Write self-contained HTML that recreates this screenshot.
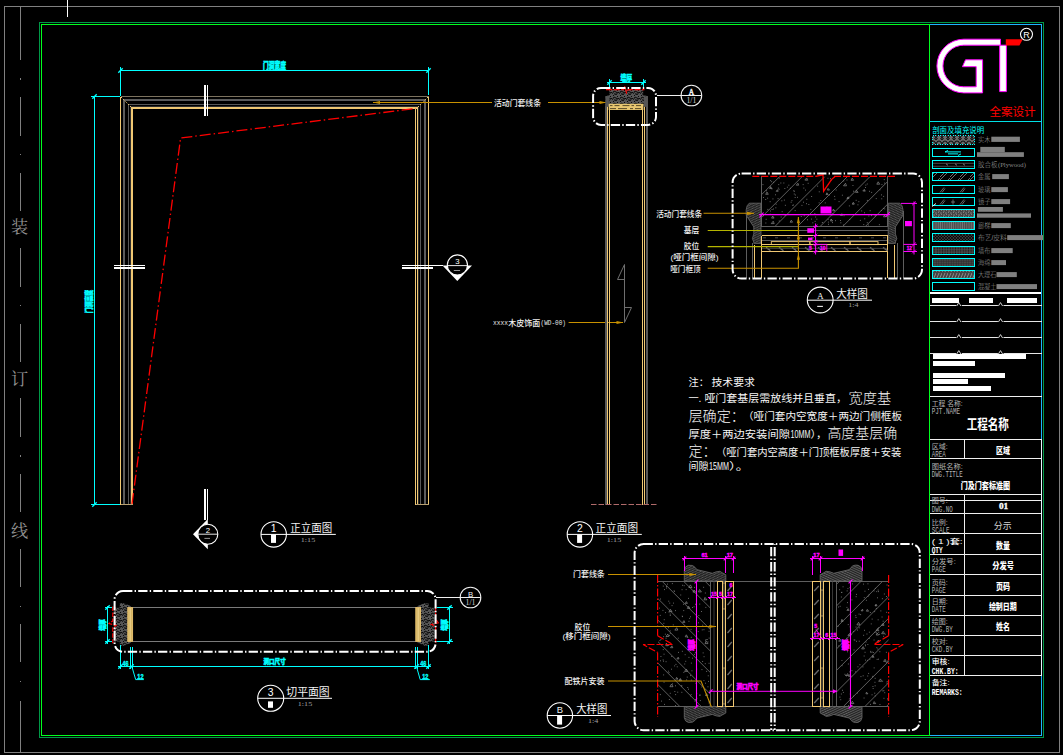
<!DOCTYPE html>
<html><head><meta charset="utf-8"><title>drawing</title>
<style>html,body{margin:0;padding:0;background:#000;overflow:hidden}svg{display:block}
.fs{font-family:"Liberation Sans","Noto Sans CJK SC",sans-serif}
.fr{font-family:"Liberation Serif","Noto Serif CJK SC",serif}
.fm{font-family:"Liberation Mono",monospace}</style></head>
<body><svg width="1063" height="755" viewBox="0 0 1063 755" font-family="Liberation Sans, sans-serif">
<rect width="1063" height="755" fill="#000"/>
<g shape-rendering="crispEdges">
<rect x="4.5" y="6.5" width="1055" height="746" fill="none" stroke="#808080" stroke-width="1" />
<line x1="67.5" y1="0" x2="67.5" y2="17" stroke="#ffffff" stroke-width="1" />
<line x1="20.5" y1="6.5" x2="20.5" y2="59.5" stroke="#808080" stroke-width="1" />
<line x1="20.5" y1="97" x2="20.5" y2="136" stroke="#808080" stroke-width="1" />
<line x1="20.5" y1="172.5" x2="20.5" y2="211" stroke="#808080" stroke-width="1" />
<line x1="20.5" y1="248" x2="20.5" y2="286.5" stroke="#808080" stroke-width="1" />
<line x1="20.5" y1="323.5" x2="20.5" y2="362" stroke="#808080" stroke-width="1" />
<line x1="20.5" y1="398" x2="20.5" y2="436.5" stroke="#808080" stroke-width="1" />
<line x1="20.5" y1="474" x2="20.5" y2="511.5" stroke="#808080" stroke-width="1" />
<line x1="20.5" y1="549" x2="20.5" y2="586.5" stroke="#808080" stroke-width="1" />
<line x1="20.5" y1="624" x2="20.5" y2="662" stroke="#808080" stroke-width="1" />
<line x1="20.5" y1="700.5" x2="20.5" y2="752" stroke="#808080" stroke-width="1" />
<rect x="20" y="78" width="1" height="1.5" fill="#808080" stroke="none" stroke-width="1" />
<rect x="20" y="153.5" width="1" height="1.5" fill="#808080" stroke="none" stroke-width="1" />
<rect x="20" y="304.5" width="1" height="1.5" fill="#808080" stroke="none" stroke-width="1" />
<rect x="20" y="455" width="1" height="1.5" fill="#808080" stroke="none" stroke-width="1" />
<rect x="20" y="605.5" width="1" height="1.5" fill="#808080" stroke="none" stroke-width="1" />
<rect x="20" y="680.5" width="1" height="1.5" fill="#808080" stroke="none" stroke-width="1" />
<rect x="39.5" y="22.5" width="1004" height="715" fill="none" stroke="#009848" stroke-width="1" />
<path d="M929.5 735.5H41.5V24.5H929.5Z" fill="none" stroke="#00ff1e" stroke-width="1" />
<path d="M930 24.5H1041.5V735.5H930" fill="none" stroke="#1eb4ff" stroke-width="1" />
</g>
<text class="fr" x="11" y="233" font-size="17.2" fill="#909090">装</text>
<text class="fr" x="11" y="385" font-size="17.2" fill="#909090">订</text>
<text class="fr" x="11" y="536.6" font-size="17.2" fill="#909090">线</text>
<path d="M963.75 39.2 H1000.5 V45.2 H963.75 A20.75 20.75 0 0 0 963.75 86.8 H976.2 V66.7 H962.4 L965.5 59.8 H982.6 V92.9 H963.75 A26.85 26.85 0 0 1 963.75 39.2 Z" fill="#ffffff" stroke="#ff00ff" stroke-width="1" />
<path d="M999.7 45.2H1006.4V91.6H999.7Z" fill="#ffffff" stroke="#ff00ff" stroke-width="1" />
<polygon points="1005.8,39.2 1022.8,39.2 1019.4,45.6 1005.8,45.6" fill="#ff0000" stroke="none" stroke-width="1" />
<circle cx="1026.5" cy="34.3" r="6" fill="none" stroke="#ffffff" stroke-width="1.1" />
<text class="fs" x="1023.25" y="37.6" font-size="9" fill="#ffffff">R</text>
<text class="fs" x="989.4" y="116.3" font-size="11.6" fill="#ff0000" textLength="46.3" lengthAdjust="spacingAndGlyphs">全案设计</text>
<g shape-rendering="crispEdges">
<line x1="930" y1="121.5" x2="1041.5" y2="121.5" stroke="#00e0e6" stroke-width="1" />
</g>
<text class="fs" x="932.2" y="132.8" font-size="7.6" fill="#00ffff" textLength="52" lengthAdjust="spacingAndGlyphs">剖面及填充说明</text>
<defs><pattern id="hWood" width="6" height="6" patternUnits="userSpaceOnUse"><rect width="6" height="6" fill="#6a6a6a"/><path d="M0 6Q3 0 6 6M0 2L1.5 0M4.5 0L6 2" stroke="#0c0c0c" stroke-width="1.1" fill="none"/></pattern><pattern id="hDiag" width="10" height="10" patternUnits="userSpaceOnUse"><path d="M-1 11L11 -1M-1 1L1 -1M9 11L11 9M-1 8L8 -1M7 11L11 7" stroke="#8a8a8a" stroke-width="0.8"/></pattern><pattern id="hDots" width="3" height="3" patternUnits="userSpaceOnUse"><rect width="3" height="3" fill="#3a3a3a"/><circle cx="1" cy="1" r="0.9" fill="#000"/><circle cx="2.5" cy="2.5" r="0.7" fill="#000"/></pattern><pattern id="hDots2" width="2.6" height="2.6" patternUnits="userSpaceOnUse"><rect width="2.6" height="2.6" fill="#4a4a4a"/><circle cx="1.3" cy="1.3" r="0.8" fill="#111"/></pattern><pattern id="hGrid" width="2.5" height="2.5" patternUnits="userSpaceOnUse"><rect width="2.5" height="2.5" fill="#484848"/><path d="M0 1.2H2.5M1.2 0V2.5" stroke="#2a2a2a" stroke-width="0.6"/></pattern><pattern id="hNoise" width="5" height="4" patternUnits="userSpaceOnUse"><rect width="5" height="4" fill="#444"/><path d="M0 1H2M3 3H5M1 3L2 2M3 1L4 0" stroke="#999" stroke-width="0.7"/></pattern><pattern id="hBars" width="2.2" height="8" patternUnits="userSpaceOnUse"><rect width="2.2" height="8" fill="#4c4c4c"/><path d="M1 0V8" stroke="#777" stroke-width="0.9"/></pattern><pattern id="hMarb" width="6" height="8" patternUnits="userSpaceOnUse"><rect width="6" height="8" fill="#444"/><path d="M0 8L3 1M3 8L6 1" stroke="#8a8a8a" stroke-width="1"/></pattern></defs>
<rect x="932.5" y="135.5" width="42" height="9" fill="url(#hWood)" stroke="none" stroke-width="1" />
<rect x="932.5" y="135.5" width="42" height="9" fill="none" stroke="#00ffff" stroke-width="1" shape-rendering="crispEdges" stroke-dasharray="1 1.5"/>
<rect x="932.5" y="148.5" width="42" height="8" fill="none" stroke="#00ffff" stroke-width="1" shape-rendering="crispEdges"/>
<rect x="932.5" y="160.5" width="42" height="8" fill="none" stroke="#00ffff" stroke-width="1" shape-rendering="crispEdges"/>
<rect x="932.5" y="172.5" width="42" height="8" fill="url(#hDiag)" stroke="none" stroke-width="1" />
<rect x="932.5" y="172.5" width="42" height="8" fill="none" stroke="#00ffff" stroke-width="1" shape-rendering="crispEdges"/>
<rect x="932.5" y="185.5" width="42" height="8" fill="none" stroke="#00ffff" stroke-width="1" shape-rendering="crispEdges"/>
<rect x="932.5" y="197.5" width="42" height="8" fill="none" stroke="#00ffff" stroke-width="1" shape-rendering="crispEdges"/>
<rect x="932.5" y="209.5" width="42" height="8" fill="url(#hNoise)" stroke="none" stroke-width="1" />
<rect x="932.5" y="209.5" width="42" height="8" fill="none" stroke="#00ffff" stroke-width="1" shape-rendering="crispEdges"/>
<rect x="932.5" y="221.5" width="42" height="8" fill="url(#hBars)" stroke="none" stroke-width="1" />
<rect x="932.5" y="221.5" width="42" height="8" fill="none" stroke="#00ffff" stroke-width="1" shape-rendering="crispEdges"/>
<rect x="932.5" y="233.5" width="42" height="8" fill="url(#hDots)" stroke="none" stroke-width="1" />
<rect x="932.5" y="233.5" width="42" height="8" fill="none" stroke="#00ffff" stroke-width="1" shape-rendering="crispEdges"/>
<rect x="932.5" y="246.5" width="42" height="8" fill="url(#hDots2)" stroke="none" stroke-width="1" />
<rect x="932.5" y="246.5" width="42" height="8" fill="none" stroke="#00ffff" stroke-width="1" shape-rendering="crispEdges"/>
<rect x="932.5" y="258.5" width="42" height="8" fill="url(#hGrid)" stroke="none" stroke-width="1" />
<rect x="932.5" y="258.5" width="42" height="8" fill="none" stroke="#00ffff" stroke-width="1" shape-rendering="crispEdges"/>
<rect x="932.5" y="270.5" width="42" height="8" fill="url(#hMarb)" stroke="none" stroke-width="1" />
<rect x="932.5" y="270.5" width="42" height="8" fill="none" stroke="#00ffff" stroke-width="1" shape-rendering="crispEdges"/>
<rect x="932.5" y="282.5" width="42" height="8" fill="none" stroke="#00ffff" stroke-width="1" shape-rendering="crispEdges"/>
<path d="M945 151.9 H961 M945 151.9 l3 -1.4 M961 153.9 l-3 1.6 M948 153.9 H958" fill="none" stroke="#00ffff" stroke-width="1" />
<path d="M933 163.3 H974 M933 166.3 H974" fill="none" stroke="#5a5a5a" stroke-width="0.8" />
<path d="M946 163.8 l2 1.5 M955 163.8 l2 1.5 M963 163.8 l2 1.5" fill="none" stroke="#8a8a8a" stroke-width="0.9" />
<path d="M940 192.5 l4 -5 M942 192.5 l3 -4 M960 192.5 l4 -5 M962 192.5 l3 -4" fill="none" stroke="#808080" stroke-width="0.8" />
<path d="M940 204.5 l4 -5 M942 204.5 l3 -4 M960 204.5 l4 -5 M962 204.5 l3 -4 M953 199.5 v5 M951 202 h4" fill="none" stroke="#808080" stroke-width="0.8" />
<path d="M932 206.5 l4 -3" fill="none" stroke="#ffffff" stroke-width="0.9" />
<text class="fs" x="977.9" y="142.4" font-size="6.6" font-weight="300" fill="#9a9a9a" textLength="12.5" lengthAdjust="spacingAndGlyphs">实木</text>
<rect x="991.3" y="136.7" width="28.6" height="5.2" fill="#808080" stroke="none" stroke-width="1" />
<rect x="980.3" y="146.9" width="24.5" height="5.3" fill="#808080" stroke="none" stroke-width="1" />
<rect x="977" y="152.2" width="46.9" height="4.7" fill="#808080" stroke="none" stroke-width="1" />
<text class="fs" x="977.9" y="167.4" font-size="6.6" font-weight="300" fill="#9a9a9a" textLength="19.5" lengthAdjust="spacingAndGlyphs">胶合板</text>
<text class="fr" x="998" y="167.1" font-size="6.6" fill="#8a8a8a">(Plywood)</text>
<text class="fs" x="977.9" y="179.4" font-size="6.6" font-weight="300" fill="#9a9a9a" textLength="12.5" lengthAdjust="spacingAndGlyphs">金属</text>
<rect x="992.2" y="174.1" width="16.7" height="5" fill="#808080" stroke="none" stroke-width="1" />
<text class="fs" x="977.9" y="192.4" font-size="6.6" font-weight="300" fill="#9a9a9a" textLength="12.5" lengthAdjust="spacingAndGlyphs">玻璃</text>
<rect x="991.3" y="187.1" width="16.6" height="5" fill="#808080" stroke="none" stroke-width="1" />
<text class="fs" x="977.9" y="204.4" font-size="6.6" font-weight="300" fill="#9a9a9a" textLength="12.5" lengthAdjust="spacingAndGlyphs">镜子</text>
<rect x="991.3" y="199.1" width="18.8" height="5" fill="#808080" stroke="none" stroke-width="1" />
<rect x="977.9" y="207" width="25" height="4.8" fill="#808080" stroke="none" stroke-width="1" />
<rect x="977" y="213.4" width="54" height="4.3" fill="#808080" stroke="none" stroke-width="1" />
<text class="fs" x="977.9" y="228.4" font-size="6.6" font-weight="300" fill="#9a9a9a" textLength="12.5" lengthAdjust="spacingAndGlyphs">廊梯</text>
<rect x="991.3" y="223.1" width="19.5" height="5" fill="#808080" stroke="none" stroke-width="1" />
<text class="fs" x="977.9" y="240.4" font-size="6.6" font-weight="300" fill="#9a9a9a" textLength="29" lengthAdjust="spacingAndGlyphs">布艺/皮料</text>
<rect x="1007.2" y="235.1" width="35.8" height="5" fill="#808080" stroke="none" stroke-width="1" />
<text class="fs" x="977.9" y="253.4" font-size="6.6" font-weight="300" fill="#9a9a9a" textLength="12.5" lengthAdjust="spacingAndGlyphs">墙布</text>
<rect x="991.3" y="248.1" width="21.4" height="5" fill="#808080" stroke="none" stroke-width="1" />
<text class="fs" x="977.9" y="265.4" font-size="6.6" font-weight="300" fill="#9a9a9a" textLength="12.5" lengthAdjust="spacingAndGlyphs">海绵</text>
<rect x="991.3" y="260.1" width="14.7" height="5" fill="#808080" stroke="none" stroke-width="1" />
<text class="fs" x="977.9" y="277.4" font-size="6.6" font-weight="300" fill="#9a9a9a" textLength="18.5" lengthAdjust="spacingAndGlyphs">大理石</text>
<rect x="996.5" y="272.1" width="20.3" height="5" fill="#808080" stroke="none" stroke-width="1" />
<text class="fs" x="977.9" y="289.4" font-size="6.6" font-weight="300" fill="#9a9a9a" textLength="18.5" lengthAdjust="spacingAndGlyphs">混凝土</text>
<rect x="996.5" y="284.1" width="40.5" height="5" fill="#808080" stroke="none" stroke-width="1" />
<g shape-rendering="crispEdges">
<rect x="930" y="292" width="111" height="2" fill="#ffffff" stroke="none" stroke-width="1" />
<rect x="932" y="298" width="27" height="5" fill="#ffffff" stroke="none" stroke-width="1" />
<rect x="969" y="298" width="24" height="5" fill="#ffffff" stroke="none" stroke-width="1" />
<rect x="1007" y="298" width="30" height="5" fill="#ffffff" stroke="none" stroke-width="1" />
<line x1="930" y1="305.5" x2="1042" y2="305.5" stroke="#e6e6e6" stroke-width="1" />
<line x1="930" y1="321.5" x2="1042" y2="321.5" stroke="#e6e6e6" stroke-width="1" />
<line x1="930" y1="337.5" x2="1042" y2="337.5" stroke="#e6e6e6" stroke-width="1" />
<line x1="930" y1="353.5" x2="1042" y2="353.5" stroke="#e6e6e6" stroke-width="1" />
</g>
<rect x="956.2" y="304.5" width="5.6" height="2" fill="#000" stroke="none" stroke-width="1" />
<path d="M956.7 306 l2.1 -3.4 l2.1 3.4" fill="none" stroke="#e6e6e6" stroke-width="0.9" />
<rect x="997.9" y="304.5" width="5.6" height="2" fill="#000" stroke="none" stroke-width="1" />
<path d="M998.4 306 l2.1 -3.4 l2.1 3.4" fill="none" stroke="#e6e6e6" stroke-width="0.9" />
<rect x="956.2" y="320.5" width="5.6" height="2" fill="#000" stroke="none" stroke-width="1" />
<path d="M956.7 322 l2.1 -3.4 l2.1 3.4" fill="none" stroke="#e6e6e6" stroke-width="0.9" />
<rect x="997.9" y="320.5" width="5.6" height="2" fill="#000" stroke="none" stroke-width="1" />
<path d="M998.4 322 l2.1 -3.4 l2.1 3.4" fill="none" stroke="#e6e6e6" stroke-width="0.9" />
<rect x="956.2" y="336.5" width="5.6" height="2" fill="#000" stroke="none" stroke-width="1" />
<path d="M956.7 338 l2.1 -3.4 l2.1 3.4" fill="none" stroke="#e6e6e6" stroke-width="0.9" />
<rect x="997.9" y="336.5" width="5.6" height="2" fill="#000" stroke="none" stroke-width="1" />
<path d="M998.4 338 l2.1 -3.4 l2.1 3.4" fill="none" stroke="#e6e6e6" stroke-width="0.9" />
<rect x="956.2" y="352.5" width="5.6" height="2" fill="#000" stroke="none" stroke-width="1" />
<path d="M956.7 354 l2.1 -3.4 l2.1 3.4" fill="none" stroke="#e6e6e6" stroke-width="0.9" />
<rect x="997.9" y="352.5" width="5.6" height="2" fill="#000" stroke="none" stroke-width="1" />
<path d="M998.4 354 l2.1 -3.4 l2.1 3.4" fill="none" stroke="#e6e6e6" stroke-width="0.9" />
<g shape-rendering="crispEdges">
<rect x="933" y="354" width="93" height="5" fill="#ffffff" stroke="none" stroke-width="1" />
<rect x="933" y="361" width="42" height="5" fill="#ffffff" stroke="none" stroke-width="1" />
<rect x="933" y="373" width="72" height="5" fill="#ffffff" stroke="none" stroke-width="1" />
<rect x="933" y="379" width="35" height="5" fill="#ffffff" stroke="none" stroke-width="1" />
<rect x="933" y="386" width="58" height="5" fill="#ffffff" stroke="none" stroke-width="1" />
<line x1="930" y1="396.5" x2="1042" y2="396.5" stroke="#f0f0f0" stroke-width="1" />
<line x1="930" y1="439.5" x2="1042" y2="439.5" stroke="#f0f0f0" stroke-width="1" />
<line x1="930" y1="458.5" x2="1042" y2="458.5" stroke="#f0f0f0" stroke-width="1" />
<line x1="930" y1="494.5" x2="1042" y2="494.5" stroke="#f0f0f0" stroke-width="1" />
<line x1="930" y1="500.5" x2="1042" y2="500.5" stroke="#f0f0f0" stroke-width="1" />
<line x1="930" y1="513.5" x2="1042" y2="513.5" stroke="#f0f0f0" stroke-width="1" />
<line x1="930" y1="533.5" x2="1042" y2="533.5" stroke="#f0f0f0" stroke-width="1" />
<line x1="930" y1="554.5" x2="1042" y2="554.5" stroke="#f0f0f0" stroke-width="1" />
<line x1="930" y1="574.5" x2="1042" y2="574.5" stroke="#f0f0f0" stroke-width="1" />
<line x1="930" y1="595.5" x2="1042" y2="595.5" stroke="#f0f0f0" stroke-width="1" />
<line x1="930" y1="615.5" x2="1042" y2="615.5" stroke="#f0f0f0" stroke-width="1" />
<line x1="930" y1="635.5" x2="1042" y2="635.5" stroke="#f0f0f0" stroke-width="1" />
<line x1="930" y1="655.5" x2="1042" y2="655.5" stroke="#f0f0f0" stroke-width="1" />
<line x1="930" y1="675.5" x2="1042" y2="675.5" stroke="#f0f0f0" stroke-width="1" />
<line x1="1041.5" y1="439" x2="1041.5" y2="676" stroke="#e8f4ff" stroke-width="1" />
<line x1="964.5" y1="439.5" x2="964.5" y2="458.5" stroke="#f0f0f0" stroke-width="1" />
<line x1="964.5" y1="494.5" x2="964.5" y2="675.5" stroke="#f0f0f0" stroke-width="1" />
</g>
<text class="fs" x="931.7" y="405.8" font-size="7" fill="#b4b4b4" textLength="31" lengthAdjust="spacingAndGlyphs">工程 名称:</text>
<text class="fm" x="931.7" y="413.8" font-size="8.2" fill="#b4b4b4" textLength="28.5" lengthAdjust="spacingAndGlyphs">PJT.NAME</text>
<text class="fs" x="931.7" y="449.4" font-size="7" fill="#b4b4b4" textLength="16" lengthAdjust="spacingAndGlyphs">区域:</text>
<text class="fm" x="931.7" y="457.4" font-size="8.2" fill="#b4b4b4" textLength="14" lengthAdjust="spacingAndGlyphs">AREA</text>
<text class="fs" x="931.7" y="469.4" font-size="7" fill="#b4b4b4" textLength="31" lengthAdjust="spacingAndGlyphs">图纸名称:</text>
<text class="fm" x="931.7" y="477.4" font-size="8.2" fill="#b4b4b4" textLength="31" lengthAdjust="spacingAndGlyphs">DWG.TITLE</text>
<text class="fs" x="931.7" y="503.1" font-size="7" fill="#b4b4b4" textLength="16" lengthAdjust="spacingAndGlyphs">图号:</text>
<text class="fm" x="931.7" y="512.3" font-size="8.2" fill="#b4b4b4" textLength="21" lengthAdjust="spacingAndGlyphs">DWG.NO</text>
<text class="fs" x="931.7" y="524.6" font-size="7" fill="#b4b4b4" textLength="16" lengthAdjust="spacingAndGlyphs">比例:</text>
<text class="fm" x="931.7" y="532.6" font-size="8.2" fill="#b4b4b4" textLength="18" lengthAdjust="spacingAndGlyphs">SCALE</text>
<text class="fs" x="931.7" y="544.1" font-size="7" font-weight="500" fill="#ffffff" textLength="31" lengthAdjust="spacingAndGlyphs">( 1 )套:</text>
<text class="fm" x="931.7" y="553.2" font-size="8.2" font-weight="bold" fill="#ffffff" textLength="11" lengthAdjust="spacingAndGlyphs">QTY</text>
<text class="fs" x="931.7" y="563.8" font-size="7" fill="#b4b4b4" textLength="24" lengthAdjust="spacingAndGlyphs">分发号:</text>
<text class="fm" x="931.7" y="571.8" font-size="8.2" fill="#b4b4b4" textLength="14" lengthAdjust="spacingAndGlyphs">PAGE</text>
<text class="fs" x="931.7" y="584.5" font-size="7" fill="#b4b4b4" textLength="16" lengthAdjust="spacingAndGlyphs">页码:</text>
<text class="fm" x="931.7" y="592.5" font-size="8.2" fill="#b4b4b4" textLength="14" lengthAdjust="spacingAndGlyphs">PAGE</text>
<text class="fs" x="931.7" y="604.1" font-size="7" fill="#b4b4b4" textLength="16" lengthAdjust="spacingAndGlyphs">日期:</text>
<text class="fm" x="931.7" y="612.1" font-size="8.2" fill="#b4b4b4" textLength="14" lengthAdjust="spacingAndGlyphs">DATE</text>
<text class="fs" x="931.7" y="624.3" font-size="7" fill="#b4b4b4" textLength="16" lengthAdjust="spacingAndGlyphs">绘图:</text>
<text class="fm" x="931.7" y="632.3" font-size="8.2" fill="#b4b4b4" textLength="21" lengthAdjust="spacingAndGlyphs">DWG.BY</text>
<text class="fs" x="931.7" y="644.1" font-size="7" fill="#b4b4b4" textLength="16" lengthAdjust="spacingAndGlyphs">校对:</text>
<text class="fm" x="931.7" y="652.1" font-size="8.2" fill="#b4b4b4" textLength="21" lengthAdjust="spacingAndGlyphs">CKD.BY</text>
<text class="fs" x="931.7" y="664.2" font-size="7" font-weight="500" fill="#ffffff" textLength="17.9" lengthAdjust="spacingAndGlyphs">审核:</text>
<text class="fm" x="931.7" y="674.3" font-size="8.2" font-weight="bold" fill="#ffffff" textLength="27" lengthAdjust="spacingAndGlyphs">CHK.BY:</text>
<text class="fs" x="931.7" y="685.1" font-size="7" font-weight="500" fill="#ffffff" textLength="17.9" lengthAdjust="spacingAndGlyphs">备注:</text>
<text class="fm" x="931.7" y="694.5" font-size="8.2" font-weight="bold" fill="#ffffff" textLength="31" lengthAdjust="spacingAndGlyphs">REMARKS:</text>
<text class="fs" x="966.7" y="429.2" font-size="13.4" font-weight="bold" fill="#ffffff" textLength="42.2" lengthAdjust="spacingAndGlyphs">工程名称</text>
<text class="fs" x="996" y="454.2" font-size="8.6" font-weight="900" fill="#ffffff" textLength="14" lengthAdjust="spacingAndGlyphs">区域</text>
<text class="fs" x="960.7" y="488.6" font-size="9.2" font-weight="900" fill="#ffffff" textLength="49.4" lengthAdjust="spacingAndGlyphs">门及门套标准图</text>
<text class="fr" x="998.9" y="508.8" font-size="8.6" font-weight="bold" fill="#ffffff" stroke="#fff" stroke-width="0.3" textLength="9.3" lengthAdjust="spacingAndGlyphs">01</text>
<text class="fs" x="993.8" y="528.8" font-size="9.2" fill="#d4d4d4" textLength="17.8" lengthAdjust="spacingAndGlyphs">分示</text>
<text class="fs" x="996" y="549.2" font-size="8.6" font-weight="900" fill="#ffffff" textLength="14" lengthAdjust="spacingAndGlyphs">数量</text>
<text class="fs" x="992.2" y="569.2" font-size="8.6" font-weight="900" fill="#ffffff" textLength="21.7" lengthAdjust="spacingAndGlyphs">分发号</text>
<text class="fs" x="996" y="589.6" font-size="8.6" font-weight="900" fill="#ffffff" textLength="14" lengthAdjust="spacingAndGlyphs">页码</text>
<text class="fs" x="988.9" y="610.2" font-size="8.6" font-weight="900" fill="#ffffff" textLength="27.9" lengthAdjust="spacingAndGlyphs">绘制日期</text>
<text class="fs" x="996" y="630" font-size="8.6" font-weight="900" fill="#ffffff" textLength="14" lengthAdjust="spacingAndGlyphs">姓名</text>
<g shape-rendering="crispEdges" fill="none">
<path d="M124 504.5V100H425V504.5" fill="none" stroke="#5c5c5c" stroke-width="2" />
<path d="M128.5 504.5V104.5H420.5V504.5" fill="none" stroke="#585858" stroke-width="1" />
<path d="M130.1 504.5V106.1H418.9V504.5" fill="none" stroke="#2c2c2c" stroke-width="1" />
<path d="M132 504.5V108H417.5" fill="none" stroke="#f0c873" stroke-width="2" />
<line x1="415.5" y1="108" x2="415.5" y2="504.5" stroke="#f0c873" stroke-width="1" />
<line x1="417.5" y1="107" x2="417.5" y2="504.5" stroke="#f0c873" stroke-width="1" />
<line x1="120.5" y1="96.5" x2="120.5" y2="504.5" stroke="#f0c873" stroke-width="1" />
<line x1="428.5" y1="96.5" x2="428.5" y2="504.5" stroke="#f0c873" stroke-width="1" />
<line x1="120.5" y1="96.5" x2="428.5" y2="96.5" stroke="#7c725e" stroke-width="1" />
<line x1="120.5" y1="504.5" x2="133" y2="504.5" stroke="#b8a070" stroke-width="1" />
<line x1="416" y1="504.5" x2="428.5" y2="504.5" stroke="#b8a070" stroke-width="1" />
</g>
<path d="M121 97L131.5 107.5M428 97L417.5 107.5" fill="none" stroke="#f0c873" stroke-width="1" stroke-dasharray="1.6 1.6"/>
<path d="M132 504L180.6 138L415.8 108.4" fill="none" stroke="#ff0000" stroke-width="1.3" stroke-dasharray="11 3 1.5 3"/>
<g shape-rendering="crispEdges">
<line x1="120.5" y1="70.5" x2="428.5" y2="70.5" stroke="#00ffff" stroke-width="1" />
<line x1="120.5" y1="67" x2="120.5" y2="96" stroke="#00ffff" stroke-width="1" />
<line x1="428.5" y1="67" x2="428.5" y2="95" stroke="#00ffff" stroke-width="1" />
<line x1="94.5" y1="96.5" x2="94.5" y2="504.5" stroke="#00ffff" stroke-width="1" />
<line x1="91" y1="96.5" x2="120" y2="96.5" stroke="#00ffff" stroke-width="1" />
<line x1="91" y1="504.5" x2="120" y2="504.5" stroke="#00ffff" stroke-width="1" />
</g>
<path d="M118.3 72.7L122.7 68.3" fill="none" stroke="#00ffff" stroke-width="1.4" />
<path d="M426.3 72.7L430.7 68.3" fill="none" stroke="#00ffff" stroke-width="1.4" />
<path d="M92.3 98.7L96.7 94.3" fill="none" stroke="#00ffff" stroke-width="1.4" />
<path d="M92.3 506.7L96.7 502.3" fill="none" stroke="#00ffff" stroke-width="1.4" />
<text class="fs" x="262.9" y="69.4" font-size="8.6" font-weight="900" fill="#00ffff" stroke="#00ffff" stroke-width="0.6" textLength="23" lengthAdjust="spacingAndGlyphs">门洞宽度</text>
<g transform="rotate(-90 91.5 301.5)"><text class="fs" x="79.85" y="301.5" font-size="7.8" font-weight="900" fill="#00ffff" stroke="#00ffff" stroke-width="0.6" textLength="23.3" lengthAdjust="spacingAndGlyphs">门洞高度</text></g>
<g shape-rendering="crispEdges">
<rect x="204" y="85" width="2" height="31" fill="#ffffff" stroke="none" stroke-width="1" />
<line x1="207.5" y1="85" x2="207.5" y2="116" stroke="#ffffff" stroke-width="1" />
<line x1="114" y1="265.5" x2="145" y2="265.5" stroke="#ffffff" stroke-width="1" />
<rect x="114" y="267" width="31" height="2" fill="#ffffff" stroke="none" stroke-width="1" />
<line x1="402" y1="265.5" x2="443" y2="265.5" stroke="#ffffff" stroke-width="1" />
<rect x="402" y="267" width="31" height="2" fill="#ffffff" stroke="none" stroke-width="1" />
<rect x="204" y="489" width="2" height="31" fill="#ffffff" stroke="none" stroke-width="1" />
<line x1="207.5" y1="489" x2="207.5" y2="520" stroke="#ffffff" stroke-width="1" />
</g>
<polygon points="442.5,265.5 472,265.5 457.3,281" fill="#ffffff" stroke="none" stroke-width="1" />
<circle cx="457.4" cy="265" r="10.1" fill="#000" stroke="#ffffff" stroke-width="1.1" />
<line x1="447.3" y1="265.6" x2="467.5" y2="265.6" stroke="#ffffff" stroke-width="0.9" />
<text class="fs" x="455.23" y="264.4" font-size="7.8" fill="#ffffff">3</text>
<line x1="453.8" y1="270.5" x2="460.1" y2="270.5" stroke="#bbb" stroke-width="0.8" />
<polygon points="207.8,519 193,534.2 207.8,549.2" fill="#ffffff" stroke="none" stroke-width="1" />
<circle cx="207.8" cy="534.2" r="10" fill="#000" stroke="#ffffff" stroke-width="1.1" />
<line x1="197.8" y1="534.2" x2="217.8" y2="534.2" stroke="#ffffff" stroke-width="0.9" />
<text class="fs" x="205.63" y="532.8" font-size="7.8" fill="#ffffff">2</text>
<line x1="204.4" y1="538.4" x2="210" y2="538.4" stroke="#bbb" stroke-width="0.8" />
<line x1="373" y1="102.5" x2="492" y2="102.5" stroke="#c89100" stroke-width="1" />
<line x1="548" y1="102.5" x2="606" y2="102.5" stroke="#c89100" stroke-width="1" />
<polygon points="373,102.5 380,101 380,104" fill="#c89100" stroke="none" stroke-width="1" />
<polygon points="606.5,102.5 599.5,101 599.5,104" fill="#c89100" stroke="none" stroke-width="1" />
<text class="fs" x="494" y="105.8" font-size="8.4" font-weight="500" fill="#f0f0f0" textLength="47" lengthAdjust="spacingAndGlyphs">活动门套线条</text>
<text class="fm" x="493" y="324.8" font-size="6.6" fill="#e8e8e8" textLength="15" lengthAdjust="spacingAndGlyphs">xxxx</text>
<text class="fs" x="508.2" y="325.7" font-size="8.4" font-weight="500" fill="#f0f0f0" textLength="32" lengthAdjust="spacingAndGlyphs">木皮饰面</text>
<text class="fm" x="540.5" y="324.8" font-size="6.6" fill="#e8e8e8" textLength="25.5" lengthAdjust="spacingAndGlyphs">(WD-00)</text>
<line x1="568.6" y1="322.5" x2="623" y2="322.5" stroke="#c89100" stroke-width="1" />
<polygon points="623.5,322.5 616.5,321 616.5,324" fill="#c89100" stroke="none" stroke-width="1" />
<circle cx="273.7" cy="534.4" r="12.7" fill="none" stroke="#ffffff" stroke-width="1.1" />
<line x1="261" y1="534.4" x2="335.8" y2="534.4" stroke="#ffffff" stroke-width="1" />
<text class="fs" x="270.81" y="532.1" font-size="10.4" fill="#ffffff">1</text>
<text class="fs" x="290.3" y="532.4" font-size="11" fill="#f4f4f4" textLength="42" lengthAdjust="spacingAndGlyphs">正立面图</text>
<text class="fr" x="300.8" y="541.8" font-size="7" fill="#a0a0a0" textLength="14.4" lengthAdjust="spacingAndGlyphs">1:15</text>
<rect x="271" y="534.5" width="5" height="8.4" fill="#ffffff" stroke="none" stroke-width="1" />
<defs><pattern id="hStone" width="7" height="6" patternUnits="userSpaceOnUse"><rect width="7" height="6" fill="#555"/><path d="M0 5L2 2L3.5 3.5L5 1L7 2M1 0L2 1M4 6L5.5 4.5M0 1.5L1 3M5.5 3L7 5" stroke="#0a0a0a" stroke-width="1" fill="none"/></pattern></defs>
<g shape-rendering="crispEdges">
<line x1="607.5" y1="104" x2="607.5" y2="504.5" stroke="#f0c873" stroke-width="1" />
<line x1="609.5" y1="104" x2="609.5" y2="504.5" stroke="#f0c873" stroke-width="1" />
<line x1="642.5" y1="104" x2="642.5" y2="504.5" stroke="#f0c873" stroke-width="1" />
<line x1="644.5" y1="104" x2="644.5" y2="504.5" stroke="#f0c873" stroke-width="1" />
<rect x="605" y="104" width="2" height="400.5" fill="#585858" stroke="none" stroke-width="1" />
<rect x="646" y="104" width="2" height="400.5" fill="#585858" stroke="none" stroke-width="1" />
</g>
<rect x="609.2" y="89.7" width="34" height="13.8" fill="url(#hStone)" stroke="none" stroke-width="1" />
<path d="M605.5 96.2L608 95.6H645L648 96.2V106.6H605.5Z" fill="url(#hStone)" stroke="none" stroke-width="1" />
<rect x="605.5" y="96.2" width="4" height="10.4" fill="#555" stroke="none" stroke-width="1" />
<rect x="644" y="96.2" width="4" height="10.4" fill="#555" stroke="none" stroke-width="1" />
<rect x="608.7" y="103.8" width="34.7" height="6.2" fill="#e6c670" stroke="none" stroke-width="1" />
<line x1="610" y1="105.6" x2="642" y2="105.6" stroke="#5a4c28" stroke-width="1" stroke-dasharray="2.5 2 5 3 7 2"/>
<line x1="610" y1="108.6" x2="642" y2="108.6" stroke="#5a4c28" stroke-width="1" stroke-dasharray="6 2 9 3 3 2"/>
<path d="M606 89.7H623.5L625 86.2L626.4 92.8L628 89.7H644.5" fill="none" stroke="#ff0000" stroke-width="1.2" stroke-dasharray="6 1.6"/>
<g shape-rendering="crispEdges">
<line x1="607" y1="82.5" x2="646" y2="82.5" stroke="#00ffff" stroke-width="1" />
<line x1="609.5" y1="79" x2="609.5" y2="89" stroke="#00ffff" stroke-width="1" />
<line x1="643.5" y1="79" x2="643.5" y2="89" stroke="#00ffff" stroke-width="1" />
</g>
<path d="M607.3 84.7L611.7 80.3" fill="none" stroke="#00ffff" stroke-width="1.4" />
<path d="M641.3 84.7L645.7 80.3" fill="none" stroke="#00ffff" stroke-width="1.4" />
<text class="fs" x="620.55" y="80.6" font-size="7.6" font-weight="900" fill="#00ffff" stroke="#00ffff" stroke-width="0.6" textLength="11.5" lengthAdjust="spacingAndGlyphs">墙厚</text>
<rect x="593.1" y="87.9" width="62.9" height="37" rx="8" fill="none" stroke="#fff" stroke-width="2" stroke-dasharray="9.3 2.2 1.4 2.2"/>
<line x1="657" y1="95.5" x2="701.7" y2="95.5" stroke="#f0f0f0" stroke-width="1" />
<circle cx="691.4" cy="95.5" r="10.3" fill="none" stroke="#f0f0f0" stroke-width="1.1" />
<text class="fr" x="688.73" y="95.1" font-size="7.4" fill="#f0f0f0" stroke="#f0f0f0" stroke-width="0.44">A</text>
<text class="fr" x="686.42" y="102.7" font-size="7.8" fill="#d0d0d0">1/1</text>
<path d="M624.5 264.5V322.5M624.5 264.5L617.5 279.5H624.5M624.5 307.5H631.5L624.5 322.5" fill="none" stroke="#6e6e6e" stroke-width="1" />
<line x1="591" y1="504.5" x2="658" y2="504.5" stroke="#b06a6a" stroke-width="1.2" stroke-dasharray="5.5 2"/>
<circle cx="579.9" cy="534.4" r="12.7" fill="none" stroke="#ffffff" stroke-width="1.1" />
<line x1="567.2" y1="534.4" x2="641.8" y2="534.4" stroke="#ffffff" stroke-width="1" />
<text class="fs" x="577.01" y="532.1" font-size="10.4" fill="#ffffff">2</text>
<text class="fs" x="595.6" y="532.4" font-size="11" fill="#f4f4f4" textLength="42.5" lengthAdjust="spacingAndGlyphs">正立面图</text>
<text class="fr" x="606.8" y="541.8" font-size="7" fill="#a0a0a0" textLength="14.4" lengthAdjust="spacingAndGlyphs">1:15</text>
<rect x="577.1" y="534.5" width="5" height="8.4" fill="#ffffff" stroke="none" stroke-width="1" />
<defs><pattern id="hMould" width="3" height="3" patternUnits="userSpaceOnUse" patternTransform="rotate(20)"><rect width="3" height="3" fill="#202020"/><path d="M0 3L3 0M-1 1L1 -1M2 4L4 2" stroke="#6c6c6c" stroke-width="0.8"/></pattern></defs>
<clipPath id="cA"><rect x="761.5" y="176.4" width="126.2" height="49.9"/></clipPath>
<g clip-path="url(#cA)">
<path d="M644.2 176.4L594.3 226.3M666.8 176.4L616.9 226.3M689.4 176.4L639.5 226.3M712.0 176.4L662.1 226.3M734.6 176.4L684.7 226.3M757.2 176.4L707.3 226.3M779.8 176.4L729.9 226.3M802.4 176.4L752.5 226.3M825.0 176.4L775.1 226.3M847.6 176.4L797.7 226.3M870.2 176.4L820.3 226.3M892.8 176.4L842.9 226.3M915.4 176.4L865.5 226.3" fill="none" stroke="#5e5e5e" stroke-width="1" />
<path d="M802.7 184.6h0.9M843.3 180.9h0.9M829.1 194.9h0.9M769.7 201.7h0.9M767.2 198.2h0.9M771.2 181.7h0.9M815.2 217.0h0.9M777.9 188.1h0.9M840.4 222.8h0.9M834.2 196.4h0.9M883.8 179.6h0.9M869.1 191.3h0.9M780.4 183.0h0.9M800.8 216.5h0.9M784.9 205.3h0.9M841.9 195.2h0.9M830.5 180.4h0.9M769.9 187.3h0.9M847.0 197.9h0.9M801.5 205.4h0.9M818.8 191.8h0.9M861.2 210.9h0.9M792.8 204.9h0.9M827.7 219.3h0.9M853.1 191.2h0.9M884.2 183.1h0.9M814.4 213.7h0.9M781.4 200.8h0.9M767.4 209.4h0.9M857.5 204.8h0.9M871.2 192.4h0.9M848.9 205.9h0.9M834.5 199.3h0.9M866.8 222.7h0.9M821.4 209.2h0.9M770.0 211.0h0.9M842.9 225.0h0.9M864.6 191.0h0.9M810.4 209.4h0.9M765.3 199.5h0.9M783.4 183.0h0.9M769.8 214.2h0.9M778.6 189.3h0.9M811.1 219.1h0.9M772.5 198.9h0.9M830.7 219.7h0.9M864.3 218.8h0.9M797.1 197.3h0.9M807.1 219.8h0.9M881.5 184.6h0.9M784.4 188.5h0.9M791.5 200.6h0.9M835.7 190.0h0.9M763.0 197.5h0.9M808.4 204.5h0.9M880.9 210.5h0.9M826.5 207.0h0.9M846.5 180.0h0.9M874.2 214.8h0.9M871.1 215.6h0.9M811.2 196.5h0.9M775.4 207.8h0.9M770.2 180.6h0.9M788.4 185.2h0.9M804.7 179.9h0.9M762.5 184.6h0.9M775.1 194.8h0.9M765.7 219.3h0.9M838.8 184.5h0.9M793.8 194.0h0.9M807.7 183.3h0.9M867.9 225.0h0.9M820.4 200.6h0.9M773.2 182.3h0.9M805.1 190.1h0.9M865.4 185.1h0.9M765.4 223.0h0.9M828.1 184.4h0.9M830.0 178.7h0.9M828.1 224.3h0.9M869.7 210.7h0.9M794.9 195.0h0.9M783.2 214.4h0.9M828.6 214.7h0.9M803.4 188.1h0.9M863.3 224.6h0.9M868.4 216.0h0.9M864.1 212.8h0.9M790.7 202.2h0.9M806.7 178.8h0.9M766.0 190.8h0.9M794.7 210.6h0.9M881.3 198.8h0.9M878.9 224.7h0.9M881.1 194.9h0.9M789.9 188.3h0.9M786.9 187.2h0.9M840.0 220.5h0.9M866.9 200.4h0.9M843.6 215.7h0.9M773.0 209.0h0.9M875.5 214.9h0.9M855.7 200.3h0.9M784.7 215.2h0.9M803.8 215.8h0.9M883.2 196.4h0.9M812.4 222.8h0.9M852.5 185.5h0.9M778.3 184.6h0.9M874.9 216.0h0.9M780.7 217.0h0.9M884.3 208.9h0.9M806.0 203.7h0.9M778.8 178.1h0.9M883.1 208.5h0.9M827.9 222.1h0.9M816.4 219.2h0.9M865.1 187.5h0.9M793.8 191.4h0.9M792.4 205.5h0.9M794.7 197.5h0.9M778.8 221.0h0.9M806.4 199.3h0.9M835.0 220.7h0.9M814.7 221.4h0.9M824.8 202.9h0.9M827.5 178.3h0.9M817.2 186.2h0.9M763.0 215.7h0.9M783.9 200.1h0.9M852.6 204.1h0.9M803.0 202.2h0.9M831.5 215.0h0.9M775.7 204.2h0.9M793.4 190.7h0.9M858.4 201.7h0.9M832.3 213.8h0.9M875.8 198.6h0.9M838.6 201.6h0.9M826.1 210.6h0.9M818.7 202.9h0.9M821.9 222.5h0.9M849.3 219.4h0.9M879.5 189.8h0.9M832.0 222.6h0.9M866.8 184.0h0.9M777.6 198.6h0.9M771.5 188.9h0.9M771.6 209.5h0.9M859.9 220.4h0.9M781.7 211.7h0.9" fill="none" stroke="#7c7c7c" stroke-width="0.9" />
<path d="M843.5 185.8l2.0 -2.5l1.0 2.5zM790.1 222.2l1.2 -2.0l1.2 2.0zM883.5 216.8l1.0 -1.8l1.1 1.8zM826.0 194.6l0.9 -1.8l1.3 1.8zM851.0 180.3l1.2 -2.2l1.4 2.2zM765.7 194.3l1.3 -2.2l1.3 2.2zM771.3 223.6l1.9 -2.4l1.0 2.4zM776.2 191.3l1.3 -1.6l0.7 1.6zM796.3 185.2l1.6 -2.0l0.8 2.0zM862.8 191.0l1.5 -1.7l0.6 1.7zM832.7 210.8l0.6 -1.7l1.5 1.7zM846.9 198.5l1.4 -1.7l0.6 1.7zM840.4 215.4l1.4 -1.7l0.7 1.7zM771.6 218.1l1.1 -2.1l1.4 2.1zM830.5 221.0l0.7 -1.9l1.5 1.9zM827.4 190.1l0.7 -1.7l1.4 1.7zM769.6 188.5l1.0 -1.9l1.3 1.9zM855.6 192.4l0.9 -2.1l1.6 2.1zM805.6 180.2l0.6 -1.9l1.6 1.9zM852.3 204.1l1.0 -1.8l1.1 1.8zM876.8 184.2l1.4 -2.4l1.5 2.4z" fill="none" stroke="#8a8a8a" stroke-width="0.7" />
</g>
<g shape-rendering="crispEdges">
<path d="M761.5 176.4V226.5H887.5V176.4" fill="none" stroke="#5e5e5e" stroke-width="1" />
<line x1="761.5" y1="230.5" x2="887.5" y2="230.5" stroke="#5e5e5e" stroke-width="1" />
</g>
<path d="M749.3 203.2H761V243.4H753.8V242L752.4 238.6L753.8 233.8V226.9L746.2 215.2V209.7Q746.6 205 749.3 203.2Z" fill="url(#hMould)" stroke="#6a6a6a" stroke-width="0.8" />
<g transform="translate(1649.2 0) scale(-1 1)">
<path d="M749.3 203.2H761V243.4H753.8V242L752.4 238.6L753.8 233.8V226.9L746.2 215.2V209.7Q746.6 205 749.3 203.2Z" fill="url(#hMould)" stroke="#6a6a6a" stroke-width="0.8" />
</g>
<g shape-rendering="crispEdges">
<line x1="746.5" y1="213" x2="746.5" y2="278" stroke="#5e5e5e" stroke-width="1" />
<line x1="752.5" y1="243" x2="752.5" y2="278" stroke="#5e5e5e" stroke-width="1" />
<line x1="903.5" y1="211" x2="903.5" y2="278" stroke="#5e5e5e" stroke-width="1" />
<line x1="897.5" y1="243" x2="897.5" y2="278" stroke="#5e5e5e" stroke-width="1" />
<line x1="754.5" y1="244.7" x2="754.5" y2="278" stroke="#f0c873" stroke-width="1" />
<line x1="761.5" y1="235.5" x2="761.5" y2="278" stroke="#f0c873" stroke-width="1" />
<line x1="894.5" y1="244.7" x2="894.5" y2="278" stroke="#f0c873" stroke-width="1" />
<line x1="887.5" y1="235.5" x2="887.5" y2="278" stroke="#f0c873" stroke-width="1" />
<line x1="761.5" y1="235.5" x2="887.5" y2="235.5" stroke="#f0c873" stroke-width="1" />
<line x1="761.5" y1="244.5" x2="887.5" y2="244.5" stroke="#f0c873" stroke-width="1" />
<line x1="761.5" y1="251.5" x2="887.5" y2="251.5" stroke="#f0c873" stroke-width="1" />
<line x1="762" y1="240.5" x2="887" y2="240.5" stroke="#5a5a5a" stroke-width="1.6" />
</g>
<line x1="763" y1="237.8" x2="886" y2="237.8" stroke="#5a5a5a" stroke-width="0.8" stroke-dasharray="3 9"/>
<rect x="771.3" y="241.6" width="38.6" height="3" fill="none" stroke="#f0c873" stroke-width="0.9" />
<rect x="809.9" y="241.6" width="40.1" height="3" fill="none" stroke="#f0c873" stroke-width="0.9" />
<rect x="850" y="241.6" width="28" height="3" fill="none" stroke="#f0c873" stroke-width="0.9" />
<path d="M766.0 247.4l4.5 3.4M779.0 247.4l4.5 3.4M792.0 247.4l4.5 3.4M805.0 247.4l4.5 3.4M818.0 247.4l4.5 3.4M831.0 247.4l4.5 3.4M844.0 247.4l4.5 3.4M857.0 247.4l4.5 3.4M870.0 247.4l4.5 3.4M883.0 247.4l4.5 3.4" fill="none" stroke="#6a6a6a" stroke-width="1.4" />
<line x1="762" y1="248.4" x2="887" y2="248.4" stroke="#4a4a4a" stroke-width="0.8" />
<path d="M752.3 176.4H816.4M834 176.4H895" fill="none" stroke="#ff0000" stroke-width="1.2" stroke-dasharray="7 2"/>
<path d="M816 176.4L823 174.8L823.6 191.2L831.5 179.6L835 176.4" fill="none" stroke="#ff0000" stroke-width="1.3" />
<line x1="759" y1="214.6" x2="890" y2="214.6" stroke="#ff00ff" stroke-width="1.1" />
<path d="M759.5 217.5l4 -5M885.7 217l4 -5" fill="none" stroke="#ff00ff" stroke-width="1.2" />
<rect x="820.5" y="206.5" width="11" height="7" fill="#ff00ff" stroke="none" stroke-width="1" />
<line x1="815.6" y1="223.5" x2="815.6" y2="254.5" stroke="#ff00ff" stroke-width="1" />
<path d="M813.9 228l3.4 -3.4M813 226.3h5" fill="none" stroke="#ff00ff" stroke-width="0.9" />
<path d="M813.9 237.2l3.4 -3.4M813 235.5h5" fill="none" stroke="#ff00ff" stroke-width="0.9" />
<path d="M813.9 243.3l3.4 -3.4M813 241.6h5" fill="none" stroke="#ff00ff" stroke-width="0.9" />
<path d="M813.9 246.4l3.4 -3.4M813 244.7h5" fill="none" stroke="#ff00ff" stroke-width="0.9" />
<path d="M813.9 253.3l3.4 -3.4M813 251.6h5" fill="none" stroke="#ff00ff" stroke-width="0.9" />
<rect x="807.3" y="228.2" width="6.8" height="4.6" fill="#ff00ff" stroke="none" stroke-width="1" />
<rect x="808" y="237.6" width="4.5" height="2.6" fill="#ff00ff" stroke="none" stroke-width="1" />
<text class="fs" x="809.11" y="250.2" font-size="5" font-weight="bold" fill="#ff00ff" stroke="#ff00ff" stroke-width="0.35">5</text>
<path d="M815.6 244.4H826.8V251.6" fill="none" stroke="#ff00ff" stroke-width="0.9" />
<text class="fs" x="819.92" y="250.4" font-size="5" font-weight="bold" fill="#ff00ff" stroke="#ff00ff" stroke-width="0.35">10</text>
<line x1="914" y1="201.5" x2="914" y2="254.5" stroke="#ff00ff" stroke-width="1" />
<line x1="901" y1="203.4" x2="917" y2="203.4" stroke="#ff00ff" stroke-width="1" />
<line x1="903.5" y1="244.4" x2="917" y2="244.4" stroke="#ff00ff" stroke-width="1" />
<line x1="903.5" y1="251.5" x2="917" y2="251.5" stroke="#ff00ff" stroke-width="1" />
<path d="M912.2 205.2l3.6 -3.6" fill="none" stroke="#ff00ff" stroke-width="1" />
<path d="M912.2 246.2l3.6 -3.6" fill="none" stroke="#ff00ff" stroke-width="1" />
<path d="M912.2 253.3l3.6 -3.6" fill="none" stroke="#ff00ff" stroke-width="1" />
<rect x="905" y="221" width="6.9" height="5.2" fill="#ff00ff" stroke="none" stroke-width="1" />
<text class="fs" x="906.64" y="250.2" font-size="4.6" font-weight="bold" fill="#ff00ff" stroke="#ff00ff" stroke-width="0.32">12</text>
<line x1="703.5" y1="213.2" x2="754" y2="213.2" stroke="#c89100" stroke-width="1.1" />
<polygon points="754.2,213.4 747,211.8 747,215" fill="#c89100" stroke="none" stroke-width="1" />
<line x1="707.7" y1="230.5" x2="798.4" y2="230.5" stroke="#b4b400" stroke-width="1.1" />
<line x1="707.7" y1="246.6" x2="798.4" y2="246.6" stroke="#b4b400" stroke-width="1.1" />
<path d="M707.7 268.3H798.4V217" fill="none" stroke="#c89100" stroke-width="1.1" />
<polygon points="798.4,216.7 796.8,223.2 800,223.2" fill="#c89100" stroke="none" stroke-width="1" />
<polygon points="798.4,233 796.8,239.5 800,239.5" fill="#c89100" stroke="none" stroke-width="1" />
<polygon points="798.4,253.3 796.8,259.8 800,259.8" fill="#c89100" stroke="none" stroke-width="1" />
<text class="fs" x="656.2" y="216.7" font-size="8.4" font-weight="500" fill="#f0f0f0" textLength="46" lengthAdjust="spacingAndGlyphs">活动门套线条</text>
<text class="fs" x="683.7" y="233.2" font-size="8.4" font-weight="500" fill="#f0f0f0" textLength="15.5" lengthAdjust="spacingAndGlyphs">基层</text>
<text class="fs" x="683.7" y="249.2" font-size="8.4" font-weight="500" fill="#f0f0f0" textLength="15.5" lengthAdjust="spacingAndGlyphs">胶位</text>
<text class="fs" x="670.5" y="260.2" font-size="7.8" font-weight="500" fill="#f0f0f0" textLength="48" lengthAdjust="spacingAndGlyphs">(哑门框间隙)</text>
<text class="fs" x="670.2" y="272" font-size="8.4" font-weight="500" fill="#f0f0f0" textLength="30.5" lengthAdjust="spacingAndGlyphs">哑门框顶</text>
<rect x="732.6" y="173.5" width="189.4" height="105.1" rx="9" fill="none" stroke="#fff" stroke-width="2" stroke-dasharray="9.3 2.2 1.4 2.2"/>
<circle cx="820.2" cy="300" r="12.9" fill="none" stroke="#ffffff" stroke-width="1.1" />
<line x1="807.3" y1="300.2" x2="872" y2="300.2" stroke="#ffffff" stroke-width="1" />
<text class="fr" x="816.88" y="298.6" font-size="9.2" fill="#f0f0f0">A</text>
<line x1="817.2" y1="306.4" x2="822.9" y2="306.4" stroke="#eee" stroke-width="1.1" />
<text class="fs" x="836.2" y="298.2" font-size="11" fill="#f4f4f4" textLength="31.7" lengthAdjust="spacingAndGlyphs">大样图</text>
<text class="fr" x="848.2" y="307.1" font-size="7" fill="#a0a0a0" textLength="10.2" lengthAdjust="spacingAndGlyphs">1:4</text>
<g shape-rendering="crispEdges">
<line x1="132.5" y1="607.5" x2="415.5" y2="607.5" stroke="#7a7a7a" stroke-width="1" />
<line x1="132.5" y1="641.5" x2="415.5" y2="641.5" stroke="#7a7a7a" stroke-width="1" />
</g>
<path d="M119.8 602.9L124 603.2L130.8 606V607.6H127.8V641.4H130.8V643L124 645.8L119.8 646.1V641.4H113.8V607.6H119.8Z" fill="url(#hStone)" stroke="none" stroke-width="1" />
<rect x="127.8" y="607.6" width="4.8" height="33.8" fill="#d4b464" stroke="#f0c873" stroke-width="0.9" />
<line x1="130.2" y1="608" x2="130.2" y2="641" stroke="#f4dc98" stroke-width="0.8" />
<path d="M428.6 602.9L424.4 603.2L417.6 606V607.6H420.6V641.4H417.6V643L424.4 645.8L428.6 646.1V641.4H434.6V607.6H428.6Z" fill="url(#hStone)" stroke="none" stroke-width="1" />
<rect x="415.8" y="607.6" width="4.8" height="33.8" fill="#d4b464" stroke="#f0c873" stroke-width="0.9" />
<line x1="418.2" y1="608" x2="418.2" y2="641" stroke="#f4dc98" stroke-width="0.8" />
<path d="M112.8 606.4V621L109 623.5L116 625.5L112.8 627.5V643.3" fill="none" stroke="#ff0000" stroke-width="1.2" stroke-dasharray="4.5 1.5"/>
<path d="M435.6 606.4V620L439 622.5L431.5 624.5L435.6 626.5V643.3" fill="none" stroke="#ff0000" stroke-width="1.2" stroke-dasharray="4.5 1.5"/>
<g shape-rendering="crispEdges">
<line x1="107.5" y1="605.5" x2="107.5" y2="643.5" stroke="#00ffff" stroke-width="1" />
<line x1="105" y1="607.5" x2="112" y2="607.5" stroke="#00ffff" stroke-width="1" />
<line x1="105" y1="641.5" x2="112" y2="641.5" stroke="#00ffff" stroke-width="1" />
<line x1="449.5" y1="605.5" x2="449.5" y2="643.5" stroke="#00ffff" stroke-width="1" />
<line x1="436.5" y1="607.5" x2="452.5" y2="607.5" stroke="#00ffff" stroke-width="1" />
<line x1="436.5" y1="641.5" x2="452.5" y2="641.5" stroke="#00ffff" stroke-width="1" />
<line x1="117.5" y1="666.5" x2="431" y2="666.5" stroke="#00ffff" stroke-width="1" />
<line x1="120.5" y1="645" x2="120.5" y2="668.5" stroke="#00ffff" stroke-width="1" />
<line x1="130.5" y1="647" x2="130.5" y2="668.5" stroke="#00ffff" stroke-width="1" />
<line x1="132.5" y1="647" x2="132.5" y2="668.5" stroke="#00ffff" stroke-width="1" />
<line x1="415.5" y1="647" x2="415.5" y2="668.5" stroke="#00ffff" stroke-width="1" />
<line x1="417.5" y1="647" x2="417.5" y2="668.5" stroke="#00ffff" stroke-width="1" />
<line x1="428.5" y1="645" x2="428.5" y2="668.5" stroke="#00ffff" stroke-width="1" />
</g>
<path d="M105.3 609.7L109.7 605.3" fill="none" stroke="#00ffff" stroke-width="1.4" />
<path d="M105.3 643.7L109.7 639.3" fill="none" stroke="#00ffff" stroke-width="1.4" />
<path d="M447.3 609.7L451.7 605.3" fill="none" stroke="#00ffff" stroke-width="1.4" />
<path d="M447.3 643.7L451.7 639.3" fill="none" stroke="#00ffff" stroke-width="1.4" />
<path d="M118.3 668.7L122.7 664.3" fill="none" stroke="#00ffff" stroke-width="1.4" />
<path d="M129.3 668.7L133.7 664.3" fill="none" stroke="#00ffff" stroke-width="1.4" />
<path d="M414.3 668.7L418.7 664.3" fill="none" stroke="#00ffff" stroke-width="1.4" />
<path d="M426.3 668.7L430.7 664.3" fill="none" stroke="#00ffff" stroke-width="1.4" />
<g transform="rotate(-90 104.6 625)"><text class="fs" x="98.85" y="625" font-size="7.4" font-weight="900" fill="#00ffff" stroke="#00ffff" stroke-width="0.6" textLength="11.5" lengthAdjust="spacingAndGlyphs">墙厚</text></g>
<g transform="rotate(-90 446.6 625)"><text class="fs" x="440.85" y="625" font-size="7.4" font-weight="900" fill="#00ffff" stroke="#00ffff" stroke-width="0.6" textLength="11.5" lengthAdjust="spacingAndGlyphs">墙厚</text></g>
<text class="fs" x="122.4" y="666" font-size="7.8" font-weight="bold" fill="#00ffff" stroke="#00ffff" stroke-width="0.4" textLength="6" lengthAdjust="spacingAndGlyphs">46</text>
<text class="fs" x="420.2" y="666" font-size="7.8" font-weight="bold" fill="#00ffff" stroke="#00ffff" stroke-width="0.4" textLength="6" lengthAdjust="spacingAndGlyphs">46</text>
<path d="M131.9 666.6L135.7 679.6H143.8" fill="none" stroke="#00ffff" stroke-width="1" />
<path d="M416.5 666.6L420.2 679.6H429.8" fill="none" stroke="#00ffff" stroke-width="1" />
<text class="fs" x="137.25" y="679" font-size="7.8" font-weight="bold" fill="#00ffff" stroke="#00ffff" stroke-width="0.4" textLength="6.3" lengthAdjust="spacingAndGlyphs">12</text>
<text class="fs" x="422.15" y="679" font-size="7.8" font-weight="bold" fill="#00ffff" stroke="#00ffff" stroke-width="0.4" textLength="6.3" lengthAdjust="spacingAndGlyphs">12</text>
<text class="fs" x="263.5" y="664.4" font-size="7" font-weight="900" fill="#00ffff" stroke="#00ffff" stroke-width="0.55" textLength="22.2" lengthAdjust="spacingAndGlyphs">洞口尺寸</text>
<rect x="114.6" y="590.9" width="321" height="60.9" rx="8.5" fill="none" stroke="#fff" stroke-width="2" stroke-dasharray="9.3 2.2 1.4 2.2"/>
<line x1="436" y1="597.5" x2="480.8" y2="597.5" stroke="#f0f0f0" stroke-width="1" />
<circle cx="470.5" cy="597.5" r="10.3" fill="none" stroke="#f0f0f0" stroke-width="1.1" />
<text class="fs" x="467.9" y="596.9" font-size="7.8" fill="#f0f0f0">B</text>
<text class="fr" x="465.52" y="604.7" font-size="7.8" fill="#d0d0d0">1/1</text>
<circle cx="270.7" cy="698.3" r="13" fill="none" stroke="#ffffff" stroke-width="1.1" />
<line x1="257.7" y1="698.3" x2="332" y2="698.3" stroke="#ffffff" stroke-width="1" />
<text class="fs" x="267.81" y="696" font-size="10.4" fill="#ffffff">3</text>
<text class="fs" x="286.3" y="696.3" font-size="11" fill="#f4f4f4" textLength="43.4" lengthAdjust="spacingAndGlyphs">切平面图</text>
<text class="fr" x="297.8" y="705.7" font-size="7" fill="#a0a0a0" textLength="14.4" lengthAdjust="spacingAndGlyphs">1:15</text>
<rect x="268" y="701.4" width="5" height="6.4" fill="#ffffff" stroke="none" stroke-width="1" />
<clipPath id="cB1"><rect x="658" y="581.2" width="52.6" height="125.5"/></clipPath>
<g clip-path="url(#cB1)">
<path d="M490.0 581.2L615.5 706.7M511.5 581.2L637.0 706.7M533.0 581.2L658.5 706.7M554.5 581.2L680.0 706.7M576.0 581.2L701.5 706.7M597.5 581.2L723.0 706.7M619.0 581.2L744.5 706.7M640.5 581.2L766.0 706.7M662.0 581.2L787.5 706.7M683.5 581.2L809.0 706.7M705.0 581.2L830.5 706.7" fill="none" stroke="#5e5e5e" stroke-width="1" />
<path d="M681.9 651.3h0.9M705.8 639.7h0.9M684.7 654.7h0.9M668.3 645.4h0.9M690.9 680.1h0.9M663.8 619.7h0.9M663.6 682.2h0.9M694.1 587.4h0.9M708.7 701.3h0.9M692.1 658.2h0.9M667.0 584.1h0.9M685.7 589.6h0.9M668.6 612.1h0.9M660.5 639.5h0.9M681.3 686.2h0.9M685.3 661.3h0.9M684.3 664.0h0.9M682.1 616.6h0.9M709.5 705.2h0.9M701.5 669.6h0.9M675.0 610.6h0.9M673.6 590.9h0.9M697.8 631.6h0.9M701.8 629.9h0.9M707.5 686.8h0.9M659.0 608.1h0.9M705.1 640.2h0.9M708.6 631.3h0.9M662.7 659.9h0.9M698.4 615.5h0.9M663.4 623.3h0.9M707.8 675.8h0.9M665.0 612.6h0.9M664.1 589.6h0.9M699.3 604.1h0.9M687.3 637.5h0.9M668.6 672.6h0.9M665.6 661.7h0.9M664.9 634.2h0.9M669.8 615.5h0.9M708.1 681.4h0.9M674.4 691.5h0.9M669.7 630.9h0.9M702.2 661.5h0.9M664.1 704.4h0.9M669.8 614.1h0.9M698.1 622.8h0.9M674.0 591.3h0.9M663.6 654.2h0.9M671.3 656.5h0.9M677.8 638.2h0.9M707.5 641.9h0.9M688.1 689.2h0.9M668.3 601.2h0.9M705.0 683.2h0.9M671.6 605.6h0.9M696.4 698.3h0.9M668.9 699.5h0.9M703.6 656.7h0.9M680.3 595.0h0.9M661.0 701.1h0.9M671.1 669.2h0.9M672.0 683.9h0.9M689.2 618.4h0.9M667.9 671.2h0.9M662.5 610.4h0.9M687.3 687.5h0.9M690.1 616.8h0.9M705.4 607.4h0.9M659.8 615.4h0.9M681.6 589.7h0.9M667.9 627.7h0.9M688.0 598.4h0.9M677.3 692.2h0.9M708.6 663.3h0.9M694.0 654.4h0.9M666.1 586.5h0.9M659.9 694.6h0.9M694.5 701.1h0.9M660.1 660.8h0.9M683.4 672.4h0.9M675.1 705.6h0.9M662.8 649.6h0.9M696.3 693.4h0.9M696.3 669.1h0.9M699.1 695.2h0.9M676.8 666.8h0.9M704.6 689.8h0.9M680.1 679.8h0.9M702.7 652.9h0.9M690.6 629.4h0.9M688.5 657.4h0.9M663.1 661.2h0.9M709.3 690.9h0.9M695.8 630.2h0.9M696.2 653.9h0.9M681.3 685.7h0.9M663.2 674.9h0.9M660.5 656.5h0.9M683.3 610.6h0.9M694.3 643.6h0.9M690.1 695.9h0.9M671.9 583.6h0.9M674.2 665.9h0.9M669.3 603.1h0.9M704.8 663.7h0.9M681.4 692.3h0.9M675.5 664.4h0.9M669.0 635.4h0.9M699.8 695.1h0.9M703.5 629.7h0.9M688.5 621.3h0.9M665.9 643.5h0.9M701.4 687.0h0.9M695.0 699.5h0.9M673.0 603.1h0.9M681.8 616.2h0.9M669.8 633.3h0.9M690.7 643.2h0.9M675.0 685.8h0.9M708.7 638.1h0.9M662.8 586.1h0.9M703.2 587.3h0.9M694.9 652.7h0.9M674.6 680.0h0.9M660.0 599.0h0.9M682.0 585.3h0.9M701.0 611.5h0.9M666.1 588.0h0.9M690.8 637.3h0.9M690.9 663.1h0.9M699.9 700.6h0.9M693.6 606.8h0.9M683.0 604.3h0.9M659.5 640.5h0.9M695.1 604.3h0.9M672.8 624.9h0.9M694.3 646.5h0.9M690.1 675.6h0.9M678.9 680.0h0.9M704.9 593.0h0.9M706.2 671.4h0.9M665.6 638.2h0.9M690.7 694.6h0.9M678.1 652.4h0.9M703.5 680.6h0.9M706.8 639.5h0.9M692.0 607.5h0.9M695.5 683.3h0.9M691.5 670.8h0.9M669.8 693.3h0.9M708.6 702.9h0.9M686.2 679.9h0.9M675.2 694.6h0.9M702.3 625.2h0.9M663.2 636.7h0.9M686.8 677.1h0.9M683.7 585.7h0.9" fill="none" stroke="#7c7c7c" stroke-width="0.9" />
<path d="M698.5 591.9l1.1 -2.4l1.8 2.4zM675.9 679.1l0.7 -1.7l1.4 1.7zM684.6 671.4l1.7 -2.4l1.3 2.4zM705.0 643.6l1.1 -2.5l1.9 2.5zM670.5 647.7l1.4 -1.9l0.9 1.9zM690.4 647.2l1.5 -2.4l1.4 2.4zM674.8 630.1l1.9 -2.4l1.1 2.4zM669.9 686.7l1.6 -2.6l1.5 2.6zM687.3 608.4l1.3 -2.1l1.3 2.1zM688.8 587.5l1.6 -2.6l1.5 2.6zM679.1 680.7l1.3 -2.2l1.3 2.2zM692.9 592.1l1.2 -2.1l1.4 2.1zM705.5 695.5l1.1 -1.9l1.1 1.9zM666.0 636.5l1.8 -2.4l1.0 2.4zM682.7 622.4l1.2 -1.8l1.0 1.8zM704.0 599.8l1.0 -2.4l1.9 2.4zM669.2 611.6l1.2 -2.3l1.6 2.3zM676.9 658.9l1.3 -1.7l0.8 1.7zM665.8 645.7l0.8 -1.9l1.4 1.9zM685.2 636.8l1.1 -2.0l1.3 2.0zM685.2 603.4l1.2 -1.8l1.0 1.8zM690.4 648.0l1.6 -2.5l1.4 2.5z" fill="none" stroke="#8a8a8a" stroke-width="0.7" />
</g>
<clipPath id="cB2"><rect x="836.2" y="581.2" width="52.4" height="125.5"/></clipPath>
<g clip-path="url(#cB2)">
<path d="M732.2 581.2L606.7 706.7M753.7 581.2L628.2 706.7M775.2 581.2L649.7 706.7M796.7 581.2L671.2 706.7M818.2 581.2L692.7 706.7M839.7 581.2L714.2 706.7M861.2 581.2L735.7 706.7M882.7 581.2L757.2 706.7M904.2 581.2L778.7 706.7M925.7 581.2L800.2 706.7M947.2 581.2L821.7 706.7M968.7 581.2L843.2 706.7M990.2 581.2L864.7 706.7M1011.7 581.2L886.2 706.7" fill="none" stroke="#5e5e5e" stroke-width="1" />
<path d="M880.4 610.9h0.9M874.5 682.3h0.9M882.7 621.2h0.9M853.1 696.2h0.9M848.2 705.5h0.9M881.9 598.7h0.9M849.3 671.9h0.9M850.3 594.2h0.9M879.1 634.3h0.9M877.0 597.8h0.9M857.5 666.8h0.9M838.1 607.0h0.9M871.6 694.8h0.9M886.0 596.5h0.9M862.7 675.8h0.9M862.5 666.9h0.9M846.7 590.9h0.9M842.6 586.8h0.9M865.0 645.8h0.9M865.9 600.3h0.9M846.5 607.4h0.9M879.5 704.5h0.9M883.9 594.0h0.9M840.3 699.7h0.9M860.5 676.6h0.9M853.7 639.9h0.9M863.2 635.3h0.9M867.5 583.8h0.9M872.5 686.5h0.9M846.3 638.3h0.9M874.5 632.3h0.9M847.0 602.6h0.9M863.0 584.1h0.9M882.2 681.2h0.9M872.7 688.5h0.9M868.9 632.2h0.9M867.4 644.5h0.9M886.7 681.6h0.9M850.2 694.7h0.9M874.7 678.3h0.9M878.3 632.3h0.9M882.4 690.9h0.9M872.2 677.0h0.9M875.8 632.3h0.9M873.6 590.9h0.9M854.4 640.1h0.9M837.7 626.1h0.9M869.4 659.3h0.9M848.9 698.9h0.9M870.8 623.9h0.9M870.5 652.5h0.9M864.1 630.3h0.9M887.6 661.5h0.9M872.5 676.3h0.9M886.6 585.0h0.9M868.2 673.4h0.9M850.1 631.8h0.9M839.7 606.3h0.9M856.1 594.4h0.9M849.8 694.0h0.9M864.9 644.9h0.9M885.9 652.3h0.9M887.4 661.0h0.9M878.0 591.6h0.9M867.3 676.0h0.9M839.5 697.1h0.9M845.3 640.5h0.9M845.7 643.4h0.9M868.0 589.4h0.9M884.8 634.2h0.9M863.7 656.0h0.9M855.6 617.5h0.9M870.2 651.4h0.9M851.5 670.7h0.9M852.1 583.9h0.9M849.5 587.5h0.9M845.1 675.4h0.9M856.9 693.0h0.9M874.9 588.4h0.9M887.0 698.8h0.9M840.9 694.0h0.9M858.8 641.2h0.9M886.2 612.3h0.9M863.6 698.0h0.9M873.6 640.0h0.9M886.5 683.1h0.9M867.6 596.4h0.9M868.7 638.5h0.9M847.5 588.6h0.9M863.8 597.6h0.9M859.5 664.7h0.9M860.2 614.6h0.9M866.5 634.0h0.9M876.4 647.7h0.9M887.5 699.9h0.9M874.2 611.6h0.9M842.9 692.4h0.9M876.7 659.4h0.9M855.3 615.7h0.9M871.7 652.0h0.9M867.0 660.4h0.9M875.2 605.6h0.9M849.7 703.2h0.9M883.4 690.7h0.9M839.2 589.7h0.9M850.9 634.7h0.9M868.6 594.9h0.9M864.5 591.2h0.9M841.6 665.7h0.9M865.0 660.1h0.9M856.0 641.3h0.9M847.8 624.6h0.9M874.7 685.8h0.9M840.9 597.0h0.9M878.0 659.2h0.9M875.9 608.5h0.9M858.6 614.1h0.9M878.0 627.8h0.9M870.1 704.4h0.9M853.6 650.0h0.9M874.8 695.9h0.9M858.8 627.8h0.9M842.1 690.3h0.9M841.2 592.5h0.9M865.6 642.1h0.9M871.7 619.1h0.9M876.3 591.6h0.9M847.9 664.0h0.9M841.3 619.7h0.9M873.7 667.9h0.9M851.5 599.9h0.9M855.2 671.9h0.9M855.7 596.7h0.9M872.9 652.5h0.9M883.5 698.3h0.9M883.2 636.3h0.9M877.7 619.8h0.9M853.2 631.5h0.9M884.3 692.7h0.9M849.7 626.9h0.9M855.6 627.1h0.9M857.1 630.1h0.9M847.0 651.8h0.9M877.4 649.0h0.9M879.4 651.7h0.9M846.1 675.9h0.9M881.6 617.0h0.9M838.3 645.9h0.9M864.6 652.3h0.9M885.9 662.6h0.9M877.7 590.1h0.9M864.8 679.5h0.9M841.4 592.3h0.9M874.3 693.2h0.9M841.5 660.5h0.9M844.5 674.3h0.9M869.9 612.5h0.9" fill="none" stroke="#7c7c7c" stroke-width="0.9" />
<path d="M848.6 676.4l1.5 -2.1l1.0 2.1zM856.9 624.9l1.7 -2.6l1.4 2.6zM861.6 648.9l1.6 -2.3l1.2 2.3zM881.6 633.7l1.6 -2.4l1.3 2.4zM878.7 681.3l1.8 -2.4l1.1 2.4zM883.6 661.4l1.5 -2.1l1.1 2.1zM876.2 635.0l0.9 -2.0l1.6 2.0zM873.3 703.6l0.9 -2.0l1.5 2.0zM847.9 635.4l1.6 -1.9l0.7 1.9zM841.0 621.4l1.2 -1.7l0.9 1.7zM875.0 605.8l1.0 -1.7l1.0 1.7zM865.9 693.8l0.6 -1.6l1.4 1.6zM846.9 610.4l1.3 -1.8l0.9 1.8zM866.4 611.2l0.9 -1.8l1.3 1.8zM846.4 675.5l1.2 -1.9l1.1 1.9zM876.9 642.0l1.5 -1.9l0.7 1.9zM881.5 625.4l1.7 -2.1l0.8 2.1zM861.1 610.8l1.4 -1.6l0.5 1.6zM876.2 630.6l1.3 -2.1l1.3 2.1zM851.2 703.5l1.1 -2.3l1.6 2.3zM838.7 641.2l1.5 -2.0l0.9 2.0zM872.0 657.2l0.7 -1.8l1.4 1.8z" fill="none" stroke="#8a8a8a" stroke-width="0.7" />
</g>
<g shape-rendering="crispEdges">
<line x1="658" y1="581.5" x2="888.6" y2="581.5" stroke="#5e5e5e" stroke-width="1" />
<line x1="658" y1="706.5" x2="888.6" y2="706.5" stroke="#5e5e5e" stroke-width="1" />
<line x1="710.5" y1="581.5" x2="710.5" y2="706.5" stroke="#5e5e5e" stroke-width="1" />
<line x1="836.5" y1="581.5" x2="836.5" y2="706.5" stroke="#5e5e5e" stroke-width="1" />
</g>
<g transform="translate(684.3 565) scale(1 1)">
<path d="M0 16.1V5Q0.5 1.2 4 0.3Q8.5 -0.6 11 2.6L12.5 4.6L28 8.3Q32 6.4 35.5 6.3L38 7.8L41.5 9.7V16.1Z" fill="url(#hMould)" stroke="#6a6a6a" stroke-width="0.8" />
</g>
<g transform="translate(684.3 722.7) scale(1 -1)">
<path d="M0 16.1V5Q0.5 1.2 4 0.3Q8.5 -0.6 11 2.6L12.5 4.6L28 8.3Q32 6.4 35.5 6.3L38 7.8L41.5 9.7V16.1Z" fill="url(#hMould)" stroke="#6a6a6a" stroke-width="0.8" />
</g>
<g transform="translate(862 565) scale(-1.00723 1)">
<path d="M0 16.1V5Q0.5 1.2 4 0.3Q8.5 -0.6 11 2.6L12.5 4.6L28 8.3Q32 6.4 35.5 6.3L38 7.8L41.5 9.7V16.1Z" fill="url(#hMould)" stroke="#6a6a6a" stroke-width="0.8" />
</g>
<g transform="translate(862 722.7) scale(-1.00723 -1)">
<path d="M0 16.1V5Q0.5 1.2 4 0.3Q8.5 -0.6 11 2.6L12.5 4.6L28 8.3Q32 6.4 35.5 6.3L38 7.8L41.5 9.7V16.1Z" fill="url(#hMould)" stroke="#6a6a6a" stroke-width="0.8" />
</g>
<g shape-rendering="crispEdges">
<rect x="717.5" y="581.5" width="5" height="125" fill="none" stroke="#f0c873" stroke-width="1" />
<rect x="725.5" y="581.5" width="8" height="125" fill="none" stroke="#f0c873" stroke-width="1" />
<rect x="812.5" y="581.5" width="8" height="125" fill="none" stroke="#f0c873" stroke-width="1" />
<rect x="823.5" y="581.5" width="6" height="125" fill="none" stroke="#f0c873" stroke-width="1" />
</g>
<path d="M727.5 591.0l4.3 -5M727.5 605.0l4.3 -5M727.5 619.0l4.3 -5M727.5 633.0l4.3 -5M727.5 647.0l4.3 -5M727.5 661.0l4.3 -5M727.5 675.0l4.3 -5M727.5 689.0l4.3 -5M727.5 703.0l4.3 -5" fill="none" stroke="#6a6a6a" stroke-width="1.3" />
<path d="M814.2 591.0l4.6 -5M814.2 605.0l4.6 -5M814.2 619.0l4.6 -5M814.2 633.0l4.6 -5M814.2 647.0l4.6 -5M814.2 661.0l4.6 -5M814.2 675.0l4.6 -5M814.2 689.0l4.6 -5M814.2 703.0l4.6 -5" fill="none" stroke="#6a6a6a" stroke-width="1.3" />
<rect x="722.8" y="583" width="2.4" height="26" fill="none" stroke="#f0c873" stroke-width="0.8" />
<rect x="722.8" y="668" width="2.4" height="36" fill="none" stroke="#f0c873" stroke-width="0.8" />
<rect x="820.8" y="590" width="2.4" height="26" fill="none" stroke="#f0c873" stroke-width="0.8" />
<rect x="820.8" y="668" width="2.4" height="30" fill="none" stroke="#f0c873" stroke-width="0.8" />
<line x1="724" y1="581.5" x2="724" y2="706.5" stroke="#555" stroke-width="0.8" />
<line x1="822" y1="581.5" x2="822" y2="706.5" stroke="#555" stroke-width="0.8" />
<line x1="714" y1="581.5" x2="714" y2="706.5" stroke="#444" stroke-width="0.8" />
<line x1="832.5" y1="581.5" x2="832.5" y2="706.5" stroke="#444" stroke-width="0.8" />
<path d="M657.6 575V635.8M657.6 652.4V717" fill="none" stroke="#ff0000" stroke-width="1.2" stroke-dasharray="8 2 1.5 2"/>
<path d="M657.6 635.8L672.9 644.5H643.1L657.6 652.4" fill="none" stroke="#ff0000" stroke-width="1.2" stroke-dasharray="7 2"/>
<path d="M888.6 575V635.8M888.6 652.4V717" fill="none" stroke="#ff0000" stroke-width="1.2" stroke-dasharray="8 2 1.5 2"/>
<path d="M888.6 635.8L873.7 644.5H903.2L888.6 652.4" fill="none" stroke="#ff0000" stroke-width="1.2" stroke-dasharray="7 2"/>
<line x1="696.5" y1="581" x2="696.5" y2="707" stroke="#ff00ff" stroke-width="1.1" />
<line x1="850.5" y1="581" x2="850.5" y2="707" stroke="#ff00ff" stroke-width="1.1" />
<path d="M694.6 583.4l3.8 -3.8M694.6 708.6l3.8 -3.8M848.6 583.4l3.8 -3.8M848.6 708.6l3.8 -3.8" fill="none" stroke="#ff00ff" stroke-width="1.1" />
<g transform="rotate(-90 693.6 645)"><text class="fs" x="687.75" y="645" font-size="7.2" font-weight="900" fill="#ff00ff" stroke="#ff00ff" stroke-width="0.55" textLength="11.7" lengthAdjust="spacingAndGlyphs">墙厚</text></g>
<g transform="rotate(-90 847.6 645)"><text class="fs" x="841.75" y="645" font-size="7.2" font-weight="900" fill="#ff00ff" stroke="#ff00ff" stroke-width="0.55" textLength="11.7" lengthAdjust="spacingAndGlyphs">墙厚</text></g>
<rect x="842.5" y="641" width="4.2" height="9" fill="#ff00ff" stroke="none" stroke-width="1" />
<g shape-rendering="crispEdges">
<line x1="682" y1="558.5" x2="736" y2="558.5" stroke="#ff00ff" stroke-width="1" />
<line x1="684.5" y1="556" x2="684.5" y2="571" stroke="#ff00ff" stroke-width="1" />
<line x1="725.5" y1="556" x2="725.5" y2="573" stroke="#ff00ff" stroke-width="1" />
<line x1="733.5" y1="556" x2="733.5" y2="573" stroke="#ff00ff" stroke-width="1" />
<line x1="810" y1="558.5" x2="864.5" y2="558.5" stroke="#ff00ff" stroke-width="1" />
<line x1="812.5" y1="556" x2="812.5" y2="575" stroke="#ff00ff" stroke-width="1" />
<line x1="820.5" y1="556" x2="820.5" y2="573" stroke="#ff00ff" stroke-width="1" />
<line x1="862.5" y1="556" x2="862.5" y2="571" stroke="#ff00ff" stroke-width="1" />
</g>
<path d="M682.7 560.3l3.6 -3.6" fill="none" stroke="#ff00ff" stroke-width="1.1" />
<path d="M723.7 560.3l3.6 -3.6" fill="none" stroke="#ff00ff" stroke-width="1.1" />
<path d="M731.7 560.3l3.6 -3.6" fill="none" stroke="#ff00ff" stroke-width="1.1" />
<path d="M810.7 560.3l3.6 -3.6" fill="none" stroke="#ff00ff" stroke-width="1.1" />
<path d="M818.7 560.3l3.6 -3.6" fill="none" stroke="#ff00ff" stroke-width="1.1" />
<path d="M860.7 560.3l3.6 -3.6" fill="none" stroke="#ff00ff" stroke-width="1.1" />
<text class="fs" x="701.49" y="556.6" font-size="5.6" font-weight="bold" fill="#ff00ff" stroke="#ff00ff" stroke-width="0.39">61</text>
<text class="fs" x="726.69" y="556.6" font-size="5.6" font-weight="bold" fill="#ff00ff" stroke="#ff00ff" stroke-width="0.39">17</text>
<text class="fs" x="813.29" y="556.6" font-size="5.6" font-weight="bold" fill="#ff00ff" stroke="#ff00ff" stroke-width="0.39">17</text>
<rect x="838.5" y="549.5" width="4.6" height="6.4" fill="#ff00ff" stroke="none" stroke-width="1" />
<line x1="708" y1="597.5" x2="736" y2="597.5" stroke="#ff00ff" stroke-width="1" />
<path d="M709 599l3 -3" fill="none" stroke="#ff00ff" stroke-width="1" />
<path d="M716 599l3 -3" fill="none" stroke="#ff00ff" stroke-width="1" />
<path d="M721 599l3 -3" fill="none" stroke="#ff00ff" stroke-width="1" />
<path d="M724 599l3 -3" fill="none" stroke="#ff00ff" stroke-width="1" />
<path d="M732 599l3 -3" fill="none" stroke="#ff00ff" stroke-width="1" />
<text class="fs" x="711.11" y="596.4" font-size="5.2" font-weight="bold" fill="#ff00ff" stroke="#ff00ff" stroke-width="0.36">15</text>
<text class="fs" x="718.95" y="596.4" font-size="5.2" font-weight="bold" fill="#ff00ff" stroke="#ff00ff" stroke-width="0.36">5</text>
<text class="fs" x="727.11" y="596.4" font-size="5.2" font-weight="bold" fill="#ff00ff" stroke="#ff00ff" stroke-width="0.36">17</text>
<text class="fs" x="729.55" y="587.4" font-size="5.2" font-weight="bold" fill="#ff00ff" stroke="#ff00ff" stroke-width="0.36">6</text>
<line x1="810" y1="638.5" x2="840" y2="638.5" stroke="#ff00ff" stroke-width="1" />
<path d="M811 640l3 -3" fill="none" stroke="#ff00ff" stroke-width="1" />
<path d="M819 640l3 -3" fill="none" stroke="#ff00ff" stroke-width="1" />
<path d="M822 640l3 -3" fill="none" stroke="#ff00ff" stroke-width="1" />
<path d="M828 640l3 -3" fill="none" stroke="#ff00ff" stroke-width="1" />
<path d="M835 640l3 -3" fill="none" stroke="#ff00ff" stroke-width="1" />
<text class="fs" x="813.51" y="637.2" font-size="5.2" font-weight="bold" fill="#ff00ff" stroke="#ff00ff" stroke-width="0.36">17</text>
<text class="fs" x="825.15" y="637.2" font-size="5.2" font-weight="bold" fill="#ff00ff" stroke="#ff00ff" stroke-width="0.36">6</text>
<text class="fs" x="830.51" y="637.2" font-size="5.2" font-weight="bold" fill="#ff00ff" stroke="#ff00ff" stroke-width="0.36">15</text>
<text class="fs" x="814.15" y="628" font-size="5.2" font-weight="bold" fill="#ff00ff" stroke="#ff00ff" stroke-width="0.36">5</text>
<path d="M816 629.5L820.5 636" fill="none" stroke="#ff00ff" stroke-width="0.9" />
<line x1="710.6" y1="691.3" x2="837" y2="691.3" stroke="#ff00ff" stroke-width="1" />
<polygon points="837.4,691.3 833,689.2 833,693.4" fill="#ff00ff" stroke="none" stroke-width="1" />
<path d="M709 693l3.6 -3.6" fill="none" stroke="#ff00ff" stroke-width="1.1" />
<text class="fs" x="736.4" y="689.2" font-size="7" font-weight="900" fill="#ff00ff" stroke="#ff00ff" stroke-width="0.55" textLength="22.3" lengthAdjust="spacingAndGlyphs">洞口尺寸</text>
<line x1="608" y1="574.5" x2="696" y2="574.5" stroke="#c89100" stroke-width="1.1" />
<polygon points="696.4,574.5 689.4,573 689.4,576" fill="#c89100" stroke="none" stroke-width="1" />
<line x1="608" y1="626.5" x2="716" y2="626.5" stroke="#c89100" stroke-width="1.1" />
<polygon points="716.4,626.5 709.4,625 709.4,628" fill="#c89100" stroke="none" stroke-width="1" />
<path d="M608 681H701L711.4 706.7" fill="none" stroke="#c89100" stroke-width="1.1" />
<text class="fs" x="573" y="577.3" font-size="8.4" font-weight="500" fill="#f0f0f0" textLength="31.8" lengthAdjust="spacingAndGlyphs">门套线条</text>
<text class="fs" x="574.5" y="629.6" font-size="8.4" font-weight="500" fill="#f0f0f0" textLength="15.8" lengthAdjust="spacingAndGlyphs">胶位</text>
<text class="fs" x="562.5" y="639.4" font-size="7.8" font-weight="500" fill="#f0f0f0" textLength="48" lengthAdjust="spacingAndGlyphs">(移门框间隙)</text>
<text class="fs" x="564.6" y="683.7" font-size="8.4" font-weight="500" fill="#f0f0f0" textLength="40" lengthAdjust="spacingAndGlyphs">配铁片安装</text>
<rect x="634.6" y="544" width="285.2" height="186.2" rx="9" fill="none" stroke="#fff" stroke-width="2" stroke-dasharray="9.3 2.2 1.4 2.2"/>
<line x1="771.2" y1="544" x2="771.2" y2="730" stroke="#ffffff" stroke-width="2" stroke-dasharray="9.3 2.2 1.4 2.2" stroke-dashoffset="-3"/>
<line x1="774.7" y1="544" x2="774.7" y2="730" stroke="#ffffff" stroke-width="2" stroke-dasharray="9.3 2.2 1.4 2.2" stroke-dashoffset="-3"/>
<circle cx="559.9" cy="715.5" r="12.7" fill="none" stroke="#ffffff" stroke-width="1.1" />
<line x1="547.2" y1="715.5" x2="611" y2="715.5" stroke="#ffffff" stroke-width="1" />
<text class="fs" x="556.77" y="713.4" font-size="9.4" fill="#f0f0f0">B</text>
<rect x="557.1" y="715.5" width="5" height="9.1" fill="#ffffff" stroke="none" stroke-width="1" />
<text class="fs" x="576.2" y="713.4" font-size="11" fill="#f4f4f4" textLength="31.2" lengthAdjust="spacingAndGlyphs">大样图</text>
<text class="fr" x="588" y="723" font-size="7" fill="#a0a0a0" textLength="10.3" lengthAdjust="spacingAndGlyphs">1:4</text>
<text class="fs" x="688.6" y="385.6" font-size="10.2" fill="#f6f6f6" textLength="20.4" lengthAdjust="spacingAndGlyphs">注：</text>
<text class="fs" x="711.5" y="385.6" font-size="10.2" fill="#f6f6f6" textLength="43.5" lengthAdjust="spacingAndGlyphs">技术要求</text>
<text class="fs" x="688.4" y="402" font-size="10.2" fill="#f6f6f6">一.</text>
<text class="fs" x="704.4" y="402" font-size="10.2" fill="#f6f6f6" textLength="142.6" lengthAdjust="spacingAndGlyphs">哑门套基层需放线并且垂直，</text>
<text class="fs" x="848.6" y="402.8" font-size="14.2" font-weight="300" fill="#f6f6f6" textLength="42.8" lengthAdjust="spacingAndGlyphs">宽度基</text>
<text class="fs" x="688.4" y="420.6" font-size="14.2" font-weight="300" fill="#f6f6f6" textLength="56.6" lengthAdjust="spacingAndGlyphs">层确定：</text>
<text class="fs" x="743" y="419.8" font-size="10.2" fill="#f6f6f6" textLength="159" lengthAdjust="spacingAndGlyphs">（哑门套内空宽度＋两边门侧框板</text>
<text class="fs" x="688.4" y="437.6" font-size="10.2" fill="#f6f6f6" textLength="101.6" lengthAdjust="spacingAndGlyphs">厚度＋两边安装间隙</text>
<text class="fs" x="790.5" y="437.6" font-size="10.2" fill="#f6f6f6" textLength="20" lengthAdjust="spacingAndGlyphs">10MM</text>
<text class="fs" x="810.5" y="437.6" font-size="10.2" fill="#f6f6f6" textLength="16.5" lengthAdjust="spacingAndGlyphs">），</text>
<text class="fs" x="827.4" y="438.4" font-size="14.2" font-weight="300" fill="#f6f6f6" textLength="69.8" lengthAdjust="spacingAndGlyphs">高度基层确</text>
<text class="fs" x="688.4" y="456.2" font-size="14.2" font-weight="300" fill="#f6f6f6" textLength="28.1" lengthAdjust="spacingAndGlyphs">定：</text>
<text class="fs" x="716" y="455.6" font-size="10.2" fill="#f6f6f6" textLength="185.4" lengthAdjust="spacingAndGlyphs">（哑门套内空高度＋门顶框板厚度＋安装</text>
<text class="fs" x="688.4" y="469.8" font-size="10.2" fill="#f6f6f6" textLength="20.2" lengthAdjust="spacingAndGlyphs">间隙</text>
<text class="fs" x="709" y="469.8" font-size="10.2" fill="#f6f6f6" textLength="20" lengthAdjust="spacingAndGlyphs">15MM</text>
<text class="fs" x="729" y="469.8" font-size="10.2" fill="#f6f6f6" textLength="20.4" lengthAdjust="spacingAndGlyphs">）。</text>
</svg></body></html>
